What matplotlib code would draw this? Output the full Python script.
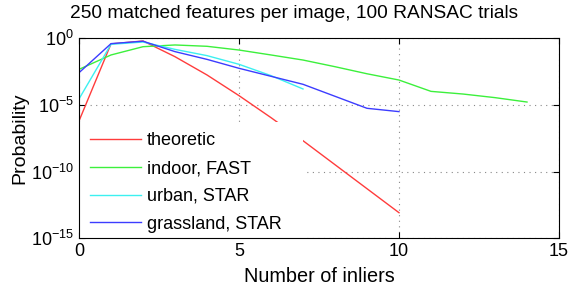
import matplotlib
matplotlib.use("Agg")
import matplotlib.pyplot as plt
from matplotlib.patches import Rectangle
import numpy as np

plt.rcParams['font.family'] = ['Liberation Sans', 'DejaVu Sans']
plt.rcParams['mathtext.fontset'] = 'custom'
plt.rcParams['mathtext.rm'] = 'Liberation Sans'

# log10 of probability
theoretic_x = [0, 1, 2, 3, 4, 5, 6, 7, 8, 9, 10]
theoretic_log = [-6.2, -0.42, -0.2, -1.38, -2.75, -4.3, -5.95, -7.68, -9.48, -11.28, -13.08]

indoor_x = [0, 1, 2, 3, 4, 5, 6, 7, 8, 9, 10, 11, 12, 13, 14]
indoor_log = [-2.33, -1.25, -0.63, -0.5, -0.6, -0.88, -1.25, -1.63, -2.13, -2.66, -3.13,
              -3.98, -4.18, -4.45, -4.78]

urban_x = [0, 1, 2, 3, 4, 5, 6, 7]
urban_log = [-4.55, -0.45, -0.28, -0.83, -1.3, -1.95, -2.8, -3.8]

grass_x = [0, 1, 2, 3, 4, 5, 6, 7, 8, 9, 10]
grass_log = [-2.58, -0.4, -0.22, -1.0, -1.58, -2.25, -2.85, -3.45, -4.35, -5.25, -5.5]

labels = ['theoretic', 'indoor, FAST', 'urban, STAR', 'grassland, STAR']
colors = ['#ff3c3c', '#3cf03c', '#3cf0f0', '#3c3cff']

W, H = 571, 289
fig = plt.figure(figsize=(W / 100, H / 100), dpi=100)
ax = fig.add_axes([79 / W, 1 - 238.3 / H, 480 / W, 200 / H])

series = [(theoretic_x, theoretic_log), (indoor_x, indoor_log),
          (urban_x, urban_log), (grass_x, grass_log)]
for (xs, ls), lab, c in zip(series, labels, colors):
    ax.semilogy(xs, 10.0 ** np.array(ls), color=c, linewidth=1, label=lab)

ax.set_xlim(0, 15)
ax.set_ylim(1e-15, 1)
ax.set_xticks([0, 5, 10, 15])
ax.set_yticks([1e-15, 1e-10, 1e-5, 1])
ax.set_yticklabels([r'$10^{-15}$', r'$10^{-10}$', r'$10^{-5}$', r'$10^{0}$'])
ax.minorticks_off()
ax.tick_params(direction='in', labelsize=13, length=4, width=0.8, top=True, right=True)
ax.grid(True, linestyle=(0, (1, 4)), color='#888888', linewidth=0.8)
for s in ax.spines.values():
    s.set_linewidth(0.8)
    s.set_zorder(4)

ax.set_xlabel('Number of inliers', fontsize=14.3, labelpad=5)
ax.set_ylabel('Probability', fontsize=14, labelpad=2)
fig.text(294 / W, 1 - 18 / H, '250 matched features per image, 100 RANSAC trials',
         fontsize=13.8, ha='center', va='baseline')

# white legend background, as wide as the original box
ax.add_patch(Rectangle((0, 0), 224 / 480, 116 / 200, transform=ax.transAxes,
                       facecolor='white', edgecolor='none', zorder=3))

leg = ax.legend(loc='center left', bbox_to_anchor=(11 / 480, 55.8 / 200), fontsize=13,
                frameon=False, handlelength=2.8, handletextpad=0.35,
                labelspacing=0.6, borderpad=0, borderaxespad=0)
leg.set_zorder(5)

fig.savefig('out.png', dpi=100)
